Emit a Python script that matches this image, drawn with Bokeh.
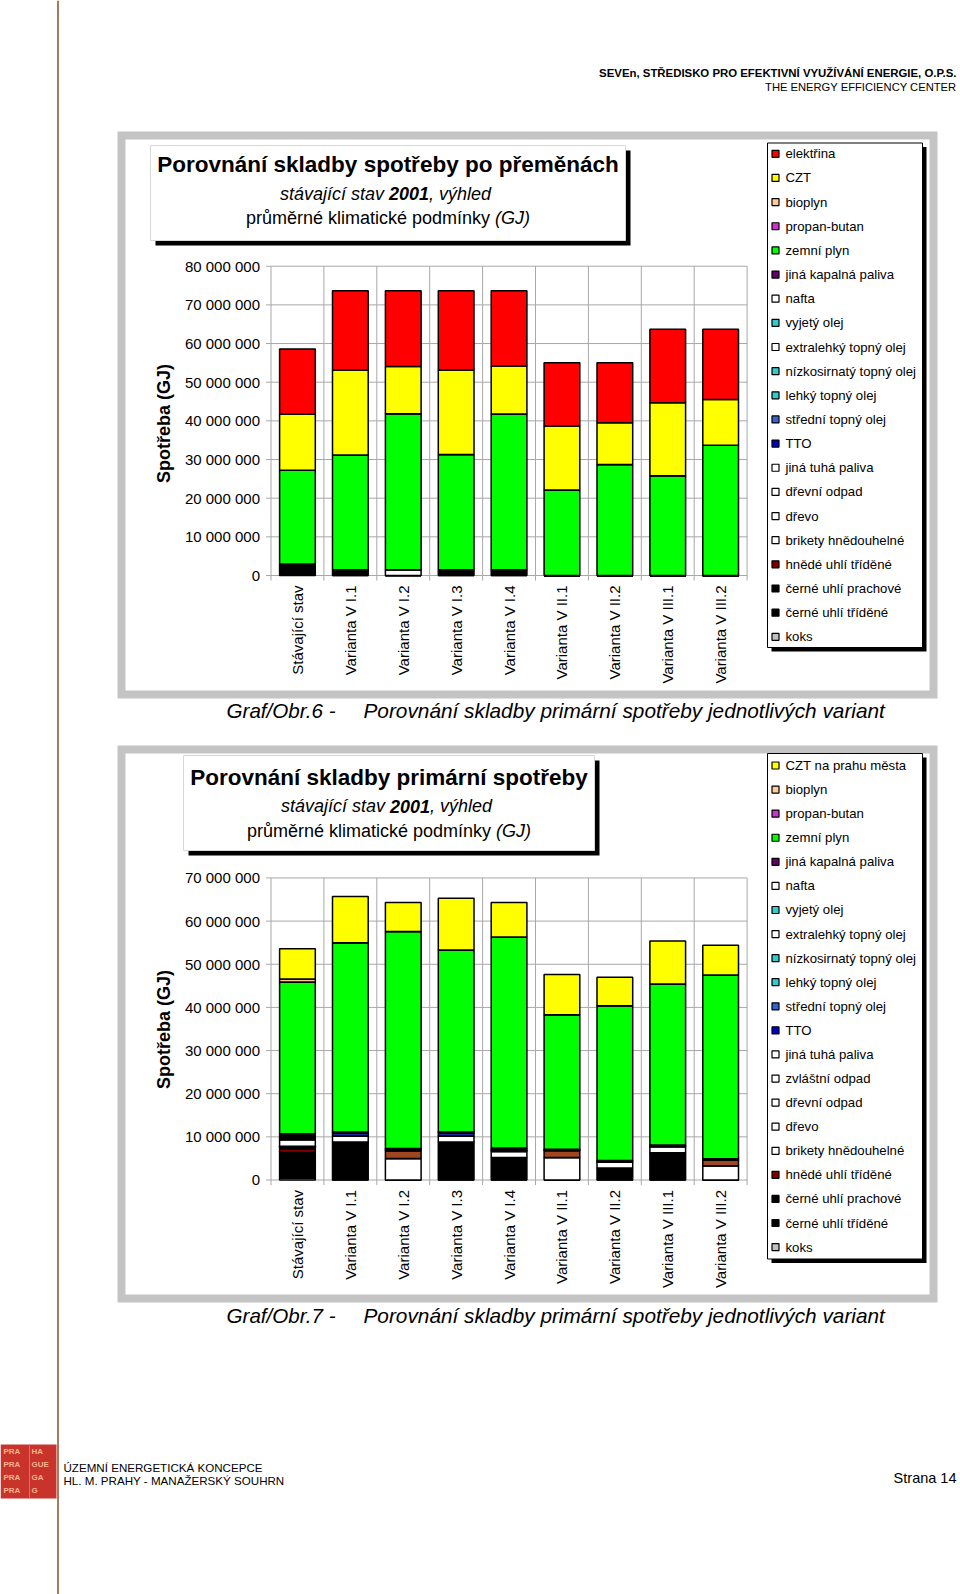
import math
import unicodedata
from bokeh.plotting import figure
from bokeh.models import Range1d, ColumnDataSource
from bokeh.core.properties import value
from bokeh.embed import file_html
from bokeh.resources import INLINE

# ---------------- data ----------------
categories = ["Stávající stav", "Varianta V I.1", "Varianta V I.2", "Varianta V I.3",
              "Varianta V I.4", "Varianta V II.1", "Varianta V II.2", "Varianta V III.1",
              "Varianta V III.2"]
y_ticks_1 = [0, 10000000, 20000000, 30000000, 40000000, 50000000, 60000000, 70000000, 80000000]
y_ticks_2 = [0, 10000000, 20000000, 30000000, 40000000, 50000000, 60000000, 70000000]

# chart 1 (GJ) – Porovnání skladby spotřeby po přeměnách
c1_elektrina = [16900000, 20600000, 19600000, 20500000, 19500000, 16300000, 15500000, 19000000, 18200000]
c1_czt = [14500000, 21900000, 12200000, 21900000, 12400000, 16600000, 10800000, 18900000, 11800000]
c1_bioplyn = [0, 0, 0, 0, 0, 0, 0, 0, 0]
c1_propan = [0, 0, 0, 0, 0, 0, 0, 0, 0]
c1_zemni_plyn = [24200000, 29700000, 40400000, 29800000, 40300000, 22100000, 28700000, 25800000, 33700000]
c1_jina_kapalna = [100000, 0, 0, 0, 0, 0, 0, 0, 0]
c1_nafta = [100000, 0, 0, 0, 0, 0, 0, 0, 0]
c1_vyjety = [0, 0, 0, 0, 0, 0, 0, 0, 0]
c1_extralehky = [150000, 0, 0, 0, 0, 0, 0, 0, 0]
c1_nizkosirnaty = [0, 0, 0, 0, 0, 0, 0, 0, 0]
c1_lehky = [0, 0, 0, 0, 0, 0, 0, 0, 0]
c1_stredni = [50000, 0, 0, 0, 0, 0, 0, 0, 0]
c1_tto = [200000, 0, 0, 0, 0, 0, 0, 0, 0]
c1_jina_tuha = [100000, 0, 0, 0, 0, 0, 0, 0, 0]
c1_drevni_odpad = [100000, 0, 0, 0, 0, 0, 0, 0, 0]
c1_drevo = [200000, 0, 1470000, 0, 0, 0, 0, 0, 0]
c1_brikety = [200000, 0, 0, 0, 0, 0, 0, 0, 0]
c1_hnede = [400000, 0, 0, 0, 0, 0, 0, 0, 0]
c1_cerne_prach = [350000, 0, 0, 0, 0, 0, 0, 0, 0]
c1_cerne_trid = [1000000, 1470000, 0, 1470000, 1470000, 0, 0, 0, 0]
c1_koks = [50000, 0, 0, 0, 0, 0, 0, 0, 0]

# chart 2 (GJ) – Porovnání skladby primární spotřeby
c2_czt = [7000000, 10700000, 6700000, 12000000, 8000000, 9300000, 6600000, 10000000, 6900000]
c2_bioplyn = [700000, 0, 0, 0, 0, 0, 0, 0, 0]
c2_propan = [0, 0, 0, 0, 0, 0, 0, 0, 0]
c2_zemni_plyn = [35200000, 43900000, 50300000, 42200000, 48900000, 31200000, 35900000, 37300000, 42600000]
c2_jina_kapalna = [300000, 0, 0, 0, 0, 0, 0, 0, 0]
c2_nafta = [300000, 100000, 100000, 100000, 200000, 100000, 100000, 100000, 100000]
c2_vyjety = [0, 0, 0, 0, 0, 0, 0, 0, 0]
c2_extralehky = [200000, 100000, 200000, 100000, 300000, 100000, 200000, 200000, 100000]
c2_nizkosirnaty = [100000, 0, 0, 0, 0, 0, 0, 0, 0]
c2_lehky = [0, 0, 0, 0, 0, 0, 0, 0, 0]
c2_stredni = [100000, 0, 0, 0, 0, 0, 0, 0, 0]
c2_tto = [400000, 700000, 300000, 700000, 300000, 100000, 100000, 100000, 100000]
c2_jina_tuha = [0, 0, 1700000, 0, 0, 1600000, 0, 0, 1300000]
c2_zvlastni_odpad = [1500000, 1400000, 0, 1400000, 1400000, 0, 1300000, 1400000, 0]
c2_drevni_odpad = [200000, 0, 0, 0, 0, 0, 0, 0, 0]
c2_drevo = [200000, 0, 5000000, 0, 0, 5200000, 0, 0, 3300000]
c2_brikety = [200000, 0, 0, 0, 0, 0, 0, 0, 0]
c2_hnede = [800000, 0, 0, 0, 0, 0, 0, 0, 0]
c2_cerne_prach = [2500000, 0, 0, 0, 0, 0, 0, 0, 0]
c2_cerne_trid = [3500000, 8800000, 0, 8800000, 5200000, 0, 2800000, 6300000, 0]
c2_koks = [400000, 0, 0, 0, 0, 0, 0, 0, 0]

# legend entries (top to bottom) : (label, legend colour, values, bar colour)
series_1 = [
    ("elektřina", "#FF0000", c1_elektrina, "#FF0000"),
    ("CZT", "#FFFF00", c1_czt, "#FFFF00"),
    ("bioplyn", "#FFCC99", c1_bioplyn, "#FFCC99"),
    ("propan-butan", "#CC33CC", c1_propan, "#CC33CC"),
    ("zemní plyn", "#00FF00", c1_zemni_plyn, "#00FF00"),
    ("jiná kapalná paliva", "#660066", c1_jina_kapalna, "#660066"),
    ("nafta", "#FFFFFF", c1_nafta, "#FFFFFF"),
    ("vyjetý olej", "#33CCCC", c1_vyjety, "#33CCCC"),
    ("extralehký topný olej", "#FFFFFF", c1_extralehky, "#FFFFFF"),
    ("nízkosirnatý topný olej", "#33CCCC", c1_nizkosirnaty, "#33CCCC"),
    ("lehký topný olej", "#33CCCC", c1_lehky, "#33CCCC"),
    ("střední topný olej", "#3366CC", c1_stredni, "#3366CC"),
    ("TTO", "#0000CC", c1_tto, "#0000CC"),
    ("jiná tuhá paliva", "#FFFFFF", c1_jina_tuha, "#FFFFFF"),
    ("dřevní odpad", "#FFFFFF", c1_drevni_odpad, "#FFFFFF"),
    ("dřevo", "#FFFFFF", c1_drevo, "#FFFFFF"),
    ("brikety hnědouhelné", "#FFFFFF", c1_brikety, "#FFFFFF"),
    ("hnědé uhlí tříděné", "#800000", c1_hnede, "#800000"),
    ("černé uhlí prachové", "#000000", c1_cerne_prach, "#000000"),
    ("černé uhlí tříděné", "#000000", c1_cerne_trid, "#000000"),
    ("koks", "#C0C0C0", c1_koks, "#C0C0C0"),
]
series_2 = [
    ("CZT na prahu města", "#FFFF00", c2_czt, "#FFFF00"),
    ("bioplyn", "#FFCC99", c2_bioplyn, "#FFCC99"),
    ("propan-butan", "#CC33CC", c2_propan, "#CC33CC"),
    ("zemní plyn", "#00FF00", c2_zemni_plyn, "#00FF00"),
    ("jiná kapalná paliva", "#660066", c2_jina_kapalna, "#660066"),
    ("nafta", "#FFFFFF", c2_nafta, "#FFFFFF"),
    ("vyjetý olej", "#33CCCC", c2_vyjety, "#33CCCC"),
    ("extralehký topný olej", "#FFFFFF", c2_extralehky, "#FFFFFF"),
    ("nízkosirnatý topný olej", "#33CCCC", c2_nizkosirnaty, "#33CCCC"),
    ("lehký topný olej", "#33CCCC", c2_lehky, "#33CCCC"),
    ("střední topný olej", "#3366CC", c2_stredni, "#3366CC"),
    ("TTO", "#0000CC", c2_tto, "#1A2E99"),
    ("jiná tuhá paliva", "#FFFFFF", c2_jina_tuha, "#A04620"),
    ("zvláštní odpad", "#FFFFFF", c2_zvlastni_odpad, "#FFFFFF"),
    ("dřevní odpad", "#FFFFFF", c2_drevni_odpad, "#FFFFFF"),
    ("dřevo", "#FFFFFF", c2_drevo, "#FFFFFF"),
    ("brikety hnědouhelné", "#FFFFFF", c2_brikety, "#FFFFFF"),
    ("hnědé uhlí tříděné", "#800000", c2_hnede, "#800000"),
    ("černé uhlí prachové", "#000000", c2_cerne_prach, "#000000"),
    ("černé uhlí tříděné", "#000000", c2_cerne_trid, "#000000"),
    ("koks", "#C0C0C0", c2_koks, "#C0C0C0"),
]

# ---------------- page ----------------
W, H = 960, 1594
FONT = value("Liberation Sans")
GRID = "#a8a8a8"

p = figure(width=W, height=H, x_range=Range1d(0, W), y_range=Range1d(H, 0),
           output_backend="svg", toolbar_location=None, min_border=0,
           x_axis_location=None, y_axis_location=None)
p.grid.visible = False
p.outline_line_color = None
p.background_fill_color = "white"
p.border_fill_color = "white"

AW = {' ': 278, '!': 278, '(': 333, ')': 333, ',': 278, '-': 333, '.': 278, '/': 278,
      'A': 667, 'B': 667, 'C': 722, 'D': 722, 'E': 667, 'F': 611, 'G': 778, 'H': 722, 'I': 278,
      'J': 500, 'K': 667, 'L': 556, 'M': 833, 'N': 722, 'O': 778, 'P': 667, 'R': 722, 'S': 667,
      'T': 611, 'U': 722, 'V': 667, 'Y': 667, 'Z': 611, 'a': 556, 'b': 556, 'c': 500, 'd': 556,
      'e': 556, 'f': 278, 'g': 556, 'h': 556, 'i': 222, 'j': 222, 'k': 500, 'l': 222, 'm': 833,
      'n': 556, 'o': 556, 'p': 556, 'r': 333, 's': 500, 't': 278, 'u': 556, 'v': 500, 'y': 500,
      'z': 500}


def tw(s, size):
    tot = 0
    for c in s:
        if c == 'í':
            tot += 278
            continue
        b = unicodedata.normalize("NFD", c)[0]
        tot += AW.get(b, 556)
    return tot * size / 1000.0


def T(x, y, s, size, style="normal", align="left", angle=0.0, color="black", **kw):
    p.text(x=[x], y=[y], text=[s], text_font=FONT, text_font_size=f"{size}px",
           text_font_style=style, text_align=align, text_baseline="middle",
           angle=angle, text_color=color, **kw)


def box(l, r, t, b, fill, line=None, lw=1):
    p.quad(left=[l], right=[r], top=[t], bottom=[b], fill_color=fill,
           line_color=line, line_width=lw)


# left page rule
p.segment(x0=[57.5], y0=[0], x1=[57.5], y1=[H], line_color="#A87A5E", line_width=2)

# header
T(956, 72, "SEVEn, STŘEDISKO PRO EFEKTIVNÍ VYUŽÍVÁNÍ ENERGIE, O.P.S.", 11.4, "bold", "right")
T(956, 86, "THE ENERGY EFFICIENCY CENTER", 11.2, "normal", "right")


def title_box(l, r, t, b, lines_y, main):
    box(l + 5, r + 5, t + 5, b + 5, "black")
    box(l, r, t, b, "white", "#d8d8d8", 1)
    cx = (l + r) / 2.0
    T(cx, lines_y[0], main, 22.5, "bold", "center")
    s = 18
    parts = [("stávající stav ", "italic"), ("2001", "bold italic"), (" , výhled", "italic")]
    total = sum(tw(a, s) for a, _ in parts)
    x = cx - total / 2.0
    for a, st in parts:
        T(x, lines_y[1], a, s, st, "left")
        x += tw(a, s)
    parts = [("průměrné klimatické podmínky ", "normal"), ("(GJ)", "italic")]
    total = sum(tw(a, s) for a, _ in parts)
    x = cx - total / 2.0
    for a, st in parts:
        T(x, lines_y[2], a, s, st, "left")
        x += tw(a, s)


def chart(key, frame_tb, title_geom, title_text, y0_px, px_per_10m, ticks, series,
          legend_tb, legend_y0, legend_dy, ytitle_y):
    # chart area frame
    box(117, 937, frame_tb[0], frame_tb[1], "#c4c4c4")
    box(125, 929, frame_tb[0] + 8, frame_tb[1] - 8, "white")
    title_box(*title_geom, title_text)

    # scales
    x0_px, slot = 270.5, 52.9
    s = px_per_10m / 10000000.0
    xr, yr = key + "x", key + "y"
    p.extra_x_ranges.update({xr: Range1d(start=-x0_px / slot, end=(W - x0_px) / slot)})
    p.extra_y_ranges.update({yr: Range1d(start=(y0_px - H) / s, end=y0_px / s)})
    n = len(categories)
    ymax = ticks[-1]
    kw = dict(x_range_name=xr, y_range_name=yr)

    # gridlines, axes and tick marks
    tick_x = 5.0 / slot
    tick_y = 5.0 / s
    p.segment(x0=[-tick_x] * len(ticks), y0=ticks, x1=[n] * len(ticks), y1=ticks,
              line_color=GRID, line_width=1, **kw)
    p.segment(x0=list(range(n + 1)), y0=[-tick_y] * (n + 1), x1=list(range(n + 1)),
              y1=[ymax] * (n + 1), line_color=GRID, line_width=1, **kw)
    p.text(x=[0] * len(ticks), y=ticks, text=[f"{t:,}".replace(",", " ") for t in ticks],
           x_offset=-11, text_font=FONT, text_font_size="15px", text_align="right",
           text_baseline="middle", text_color="black", **kw)

    # stacked bars (bottom of the stack = last legend entry)
    stack = list(reversed(series))
    data = {"x": [i + 0.5 for i in range(n)]}
    names = []
    for j, (lab, lc, vals, bc) in enumerate(stack):
        data[f"s{j}"] = vals
        names.append(f"s{j}")
    src = ColumnDataSource(data)
    p.vbar_stack(names, x="x", width=0.675, color=[sct[3] for sct in stack],
                 line_color="black", line_width=1.5, source=src, **kw)

    # category labels
    p.text(x=[i + 0.5 for i in range(n)], y=[0] * n, text=categories, angle=math.pi / 2,
           y_offset=10, text_font=FONT, text_font_size="15px", text_align="right",
           text_baseline="middle", text_color="black", **kw)

    # y axis title
    T(163, ytitle_y, "Spotřeba (GJ)", 18, "bold", "center", angle=math.pi / 2)

    # legend
    lt, lb = legend_tb
    box(771, 926, lt + 4, lb + 4, "black")
    box(767, 922, lt, lb, "white", "black", 1)
    ys = [legend_y0 + i * legend_dy for i in range(len(series))]
    p.quad(left=[771.5] * len(ys), right=[778.5] * len(ys), top=[y - 3.5 for y in ys],
           bottom=[y + 3.5 for y in ys], fill_color=[sct[1] for sct in series],
           line_color="black", line_width=1.2)
    p.text(x=[785] * len(ys), y=ys, text=[sct[0] for sct in series], text_font=FONT,
           text_font_size="13.2px", text_align="left", text_baseline="middle",
           text_color="black")


p.extra_x_ranges = {}
p.extra_y_ranges = {}

chart("c1", (131, 698), (150, 625, 145, 240, (164, 193, 217.5)),
      "Porovnání skladby spotřeby po přeměnách", 575.0, 38.66, y_ticks_1, series_1,
      (142.5, 647), 153.3, 24.15, 423)
chart("c2", (745, 1302), (183, 594, 755, 850, (777, 805.5, 830)),
      "Porovnání skladby primární spotřeby", 1179.5, 43.15, y_ticks_2, series_2,
      (753, 1258.5), 765.0, 24.08, 1029)

# captions
T(226, 710, "Graf/Obr.6 -", 20.6, "italic")
T(363, 710, "Porovnání skladby primární spotřeby jednotlivých variant", 20.8, "italic")
T(226, 1315, "Graf/Obr.7 -", 20.6, "italic")
T(363, 1315, "Porovnání skladby primární spotřeby jednotlivých variant", 20.8, "italic")

# footer
box(0, 56, 1444, 1498, "#C8342C")
for k, (a, b) in enumerate([("PRA", "HA"), ("PRA", "GUE"), ("PRA", "GA"), ("PRA", "G")]):
    yy = 1451 + k * 13
    T(3, yy, a, 8, "bold", color="#F2B48C")
    T(31, yy, b, 8, "bold", color="#F2B48C")
p.segment(x0=[29], y0=[1444], x1=[29], y1=[1498], line_color="#E07050", line_width=1)
T(63, 1466.5, "ÚZEMNÍ ENERGETICKÁ KONCEPCE", 11.6)
T(63, 1480, "HL. M. PRAHY - MANAŽERSKÝ SOUHRN", 11.6)
T(956, 1477.5, "Strana 14", 14.5, "normal", "right")

open("out.html", "w").write(file_html(p, INLINE))
